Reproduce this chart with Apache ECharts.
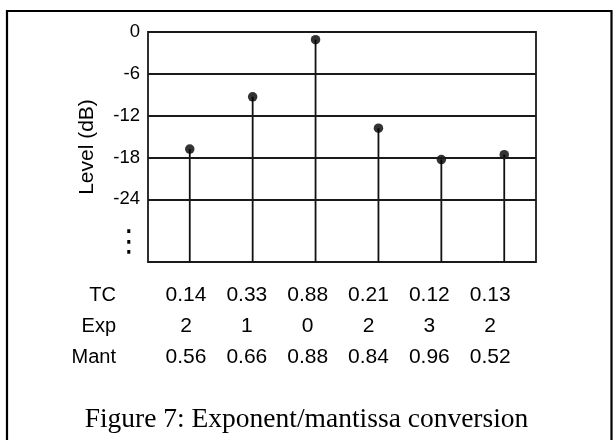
<!DOCTYPE html>
<html><head><meta charset="utf-8">
<script src="https://cdn.jsdelivr.net/npm/echarts@6/dist/echarts.min.js"></script>
<style>html,body{margin:0;padding:0;background:#fff}#c{width:613px;height:440px}</style>
</head><body><div id="c"></div>
<script>
// ---- data ----
const categories = ['1', '2', '3', '4', '5', '6'];
const levels = [-16.8, -9.3, -1.1, -13.8, -18.3, -17.6];
const tcValues = ['0.14', '0.33', '0.88', '0.21', '0.12', '0.13'];
const expValues = ['2', '1', '0', '2', '3', '2'];
const mantValues = ['0.56', '0.66', '0.88', '0.84', '0.96', '0.52'];
const rowLabels = ['TC', 'Exp', 'Mant'];
const yTickValues = [0, -6, -12, -18, -24, -30];
const gridLevels = [-6, -12, -18, -24];
const yMin = -33, yMax = 0;
const yAxisName = 'Level (dB)';
const captionText = 'Figure 7: Exponent/mantissa conversion';

const SANS = 'Liberation Sans, Arial, sans-serif';
const SERIF = 'Liberation Serif, Times New Roman, serif';
const INK = '#111';

const chart = echarts.init(document.getElementById('c'), null, {renderer: 'canvas'});
const pts = levels.map((v, i) => [i, v]);

const option = {
  animation: false,
  backgroundColor: '#fff',
  title: {
    text: captionText,
    left: 'center',
    top: 401,
    textStyle: {fontFamily: SERIF, fontSize: 27.5, fontWeight: 'normal', color: '#000'}
  },
  graphic: [
    {type: 'rect', shape: {x: 7, y: 11, width: 604.5, height: 440}, style: {fill: 'none', stroke: '#000', lineWidth: 2.2}, silent: true},
    ...rowLabels.map((t, k) => ({
      type: 'text', x: 116, y: 295 + k * 31,
      style: {text: t, fontFamily: SANS, fontSize: 20, fill: '#000', align: 'right', verticalAlign: 'middle'},
      silent: true
    }))
  ],
  grid: [
    {left: 148, top: 32, width: 388, height: 230, show: true, borderColor: '#1a1a1a', borderWidth: 1.8, backgroundColor: 'transparent'},
    {left: 155.6, top: 269, width: 365, height: 1}
  ],
  xAxis: [
    {type: 'value', gridIndex: 0, min: -0.664, max: 5.505,
     axisLine: {show: false}, axisTick: {show: false}, axisLabel: {show: false}, splitLine: {show: false}},
    {type: 'category', gridIndex: 1, data: categories,
     axisLine: {show: false}, axisTick: {show: false}, splitLine: {show: false},
     axisLabel: {
       margin: 10, fontFamily: SANS, fontSize: 21, color: '#000', lineHeight: 31,
       formatter: (val, idx) => tcValues[idx] + '\n' + expValues[idx] + '\n' + mantValues[idx]
     }}
  ],
  yAxis: [
    {type: 'value', gridIndex: 0, min: yMin, max: yMax,
     name: yAxisName, nameLocation: 'middle', nameGap: 50,
     nameTextStyle: {fontFamily: SANS, fontSize: 21, color: '#000'},
     axisLine: {show: false}, axisTick: {show: false}, splitLine: {show: false},
     axisLabel: {
       customValues: yTickValues, margin: 8, fontFamily: SANS, fontSize: 18.5, color: '#000',
       formatter: v => v === -30 ? '{d|⋮}' : String(v),
       rich: {d: {fontSize: 30, fontFamily: 'DejaVu Sans', width: 22, align: 'center', color: '#000', padding: [4, 0, 0, 0]}}
     }},
    {type: 'value', gridIndex: 1, show: false}
  ],
  series: [
    {
      type: 'custom', xAxisIndex: 0, yAxisIndex: 0, data: pts, silent: true,
      renderItem: (params, api) => {
        const top = api.coord([api.value(0), api.value(1)]);
        const bot = api.coord([api.value(0), yMin]);
        return {type: 'line', shape: {x1: top[0], y1: top[1], x2: bot[0], y2: bot[1]},
                style: {stroke: INK, lineWidth: 1.8}};
      },
      z: 3
    },
    {
      type: 'scatter', xAxisIndex: 0, yAxisIndex: 0, data: pts, symbol: 'circle', symbolSize: 9.5,
      itemStyle: {color: '#000'}, silent: true, z: 4,
      markLine: {
        silent: true, symbol: 'none', label: {show: false},
        lineStyle: {color: '#1a1a1a', width: 1.8, type: 'solid'},
        data: gridLevels.map(v => ({yAxis: v}))
      }
    }
  ]
};
chart.setOption(option);
</script>
</body></html>
